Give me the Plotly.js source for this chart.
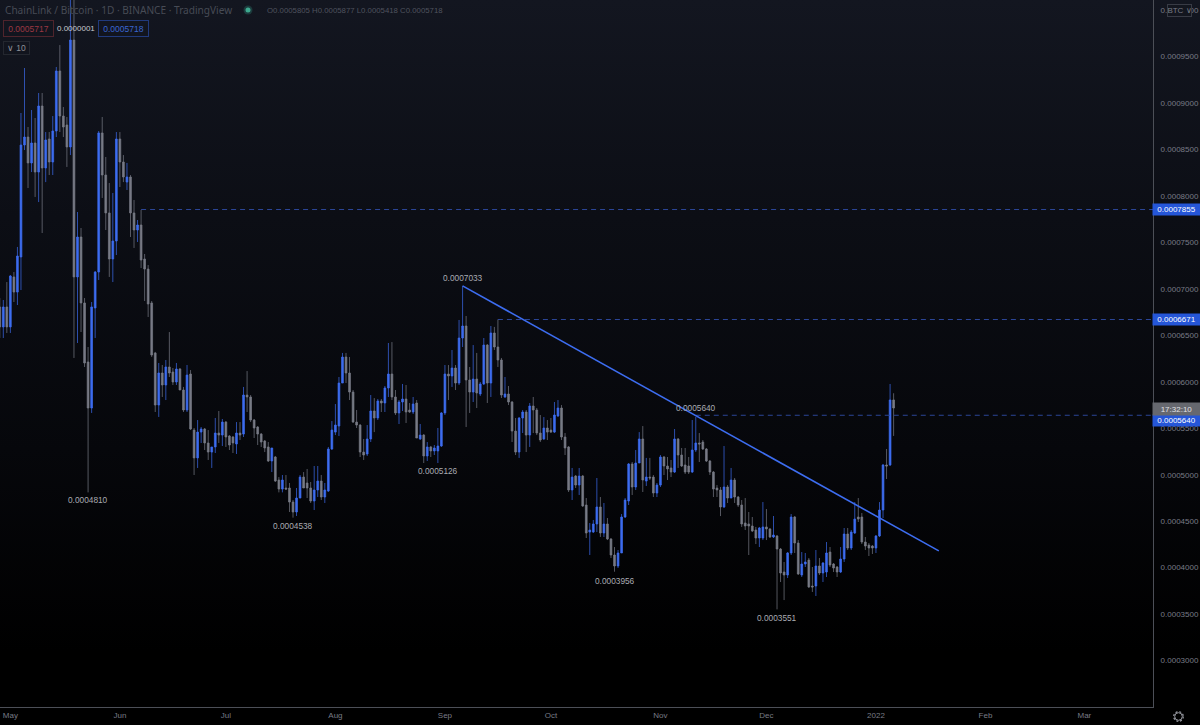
<!DOCTYPE html>
<html><head><meta charset="utf-8">
<script src="https://cdn.plot.ly/plotly-3.0.1.min.js"></script>
<style>
html,body{margin:0;padding:0;width:1200px;height:725px;overflow:hidden;
background:linear-gradient(#131620 0%,#0c0e15 30%,#06070b 62%,#000 90%);}
#chart{width:1200px;height:725px;}
</style></head><body><div id="chart"></div>
<script>
// prices in units of 0.0000001 BTC
const UNIT = 1e-7;
const firstDay = "2021-04-28";
const open_ = [6806,6591,6806,6591,7129,6966,7344,8549,8635,8356,8571,8258,8969,8302,8614,8366,8700,9346,8861,8765,8528,9679,7129,7559,6849,6214,5718,6795,7182,8679,8226,7818,7322,7516,8614,8366,8150,8205,7818,7634,7688,7322,7214,6849,6311,5750,6095,5966,6160,6106,5998,6138,5912,5697,6084,5481,5181,5459,5492,5342,5244,5299,5449,5427,5567,5417,5406,5331,5449,5438,5858,5837,5589,5514,5438,5363,5299,5148,5191,4943,4846,4857,4857,4706,4599,4749,4975,4911,4857,4717,4836,4932,4760,4825,5277,5459,5524,5987,6267,6095,5890,5567,5535,5244,5223,5385,5686,5611,5794,5772,5934,6084,5837,5665,5783,5815,5697,5675,5772,5385,5427,5202,5299,5256,5256,5309,5665,6084,6063,6149,5987,6472,6601,6020,5890,6030,5869,5977,6396,5987,6526,6375,6235,5837,5869,5783,5470,5244,5611,5675,5427,5740,5697,5449,5385,5503,5481,5459,5632,5718,5406,5299,4836,4986,4889,4986,4674,4383,4383,4470,4653,4373,4470,4308,4136,4018,4158,4545,4717,5116,4868,5126,5385,4932,4975,4975,4803,4889,5191,5094,5073,5029,5385,5212,5105,5094,5029,5266,5342,5352,5277,5148,5029,4857,4836,4653,4868,4749,4943,4760,4674,4481,4470,4448,4405,4319,4319,4438,4416,4330,4341,4200,3953,3921,4158,4545,4265,3921,4039,4082,3802,3802,4018,3942,3953,4168,4039,4007,3953,4093,4362,4211,4373,4545,4545,4276,4243,4233,4211,4341,4620,5105,5105,5805];
const high = [6902,6881,7074,7150,7182,7452,8894,9378,8743,8926,8840,9109,9109,8689,8689,8861,9389,9625,8958,8851,10200,10200,7828,7656,6902,6375,6859,7193,8700,8851,8420,8140,8033,8689,8689,8441,8356,8226,7957,7742,7850,7376,7257,6870,6322,6203,6181,6235,6536,6149,6203,6149,5945,6181,6127,5503,5589,5514,5503,5481,5299,5611,5686,5600,5578,5427,5417,5567,5567,5945,6116,5858,5600,5524,5449,5374,5352,5288,5202,4975,4997,4997,4911,4728,4857,4997,5029,5062,4922,5094,5094,4997,4911,5299,5578,5761,6052,6311,6311,6267,5912,5697,5545,5385,5535,5858,5825,5815,5815,5955,6418,6428,5912,5804,5977,5966,5772,5837,5804,5546,5438,5352,5310,5320,5503,5675,6181,6181,6343,6181,6666,7033,6709,6160,6396,6311,5998,6472,6407,6601,6591,6671,6257,6052,5955,5794,5611,5621,5697,5697,5772,5837,5718,5643,5621,5589,5611,5783,5804,5750,5449,5309,5073,4997,5073,4997,4749,4480,4513,4965,4760,4696,4534,4319,4222,4190,4577,4749,5126,5137,5266,5459,5524,5181,5181,4997,4911,5212,5202,5191,5159,5492,5395,5288,5288,5191,5589,5622,5449,5374,5288,5159,5040,4889,4868,5309,4889,5073,4965,4771,4728,4749,4599,4545,4438,4438,4706,4631,4427,4556,4351,4211,4061,4168,4577,4556,4297,4168,4158,4104,4007,4190,4104,4061,4276,4222,4050,4018,4222,4427,4427,4405,4706,4749,4588,4330,4265,4243,4351,4706,5116,5277,5977,5877];
const low = [6472,6472,6526,6526,6859,6827,6988,8495,8086,8258,7990,7935,7602,8150,8226,8226,8635,8689,8635,8313,8441,6257,6418,6536,6160,4810,5665,6472,7096,7979,7634,7129,7074,7365,8097,8150,8065,7559,7441,7505,7225,6870,6698,6268,5675,5622,5837,5804,6052,5966,5966,5912,5675,5675,5481,4997,5073,5342,5266,5159,5073,5234,5342,5309,5299,5266,5234,5223,5374,5406,5675,5567,5395,5320,5299,5244,5137,5029,4922,4810,4810,4836,4599,4538,4556,4749,4857,4749,4696,4620,4760,4728,4696,4814,5266,5427,5417,5987,5987,5804,5557,5503,5191,5159,5202,5352,5459,5589,5675,5675,5837,5804,5643,5546,5686,5557,5665,5654,5395,5374,5126,5148,5191,5212,5126,5299,5643,5804,5945,5912,5966,6375,5514,5665,5783,5718,5847,5966,5772,5837,6343,6160,5826,5826,5750,5352,5212,5181,5449,5244,5299,5449,5427,5352,5374,5374,5449,5449,5622,5374,5212,4814,4728,4857,4782,4653,4319,4136,4373,4383,4330,4330,4297,4104,3956,3996,4158,4534,4674,4782,4836,5126,4814,4879,4943,4760,4760,4868,4997,4943,4975,5019,5073,5083,5008,5008,5019,5244,5137,5266,5137,4997,4760,4760,4555,4642,4696,4749,4696,4653,4438,4405,4136,4383,4254,4222,4297,4297,4319,4319,3551,3845,3651,3888,4136,4158,3921,3899,4007,3781,3738,3695,3921,3845,3899,4007,3953,3899,3942,4061,4190,4190,4362,4491,4254,4190,4125,4147,4158,4330,4534,4954,5094,5418];
const close_ = [6591,6806,6591,7139,6966,7354,8549,8635,8356,8571,8258,8969,8302,8603,8366,8700,9346,8861,8743,8528,9679,7129,7559,6849,6203,5718,6806,7182,8679,8226,7818,7322,7516,8614,8366,8205,8205,7818,7634,7688,7311,7214,6838,6289,5750,6095,5966,6160,6095,5998,6138,5912,5697,6073,5492,5181,5459,5492,5342,5244,5299,5449,5427,5567,5406,5320,5342,5449,5427,5858,5837,5589,5503,5438,5352,5288,5148,5288,4932,4846,4943,4846,4706,4599,4749,4975,4857,4857,4717,4836,4932,4760,4836,5277,5481,5535,5987,6267,6095,5890,5567,5535,5244,5212,5385,5686,5611,5794,5772,5934,6084,5837,5665,5783,5815,5675,5675,5761,5395,5427,5202,5299,5256,5288,5309,5665,6084,6063,6149,5987,6472,6601,6020,5890,6030,5880,5977,6396,5987,6526,6375,6235,5858,5869,5783,5470,5244,5611,5675,5427,5740,5697,5449,5374,5503,5459,5459,5643,5718,5406,5288,4836,4975,4889,4986,4664,4373,4405,4470,4653,4373,4470,4308,4136,4018,4158,4545,4728,5116,4868,5126,5385,4943,4975,4965,4803,4889,5191,5094,5062,5029,5385,5212,5094,5029,5029,5266,5342,5331,5277,5148,5029,4846,4836,4653,4868,4749,4943,4760,4674,4470,4448,4448,4394,4319,4427,4438,4416,4330,4351,4200,3942,3921,4158,4545,4265,3932,4039,4061,3792,3792,4018,3942,4050,4158,4028,3996,3953,4093,4362,4211,4383,4523,4523,4276,4233,4211,4211,4341,4620,5105,5094,5805,5718];

const priceTicks = [0.0003,0.00035,0.0004,0.00045,0.0005,0.00055,0.0006,0.00065,0.0007,0.00075,0.0008,0.00085,0.0009,0.00095,0.001];
const priceTickLabels = ["0.0003000","0.0003500","0.0004000","0.0004500","0.0005000","0.0005500","0.0006000","0.0006500","0.0007000","0.0007500","0.0008000","0.0008500","0.0009000","0.0009500","0.0010000"];
const monthTicks = ["2021-05-01","2021-06-01","2021-07-01","2021-08-01","2021-09-01","2021-10-01","2021-11-01","2021-12-01","2022-01-01","2022-02-01","2022-03-01"];
const monthLabels = ["May","Jun","Jul","Aug","Sep","Oct","Nov","Dec","2022","Feb","Mar"];

// swing labels: date, price, text
const swingDates = ["2021-05-23","2021-07-20","2021-08-30","2021-09-06","2021-10-19","2021-11-11","2021-12-04"];
const swingPrices = [0.000481,0.0004538,0.0005126,0.0007033,0.0003956,0.000564,0.0003551];
const swingLabels = ["0.0004810","0.0004538","0.0005126","0.0007033","0.0003956","0.0005640","0.0003551"];
const swingShift = [-8,-8,-8,8,-9,7,-9];

// horizontal levels
const levelStart = ["2021-06-07","2021-09-16","2021-11-11"];
const levelPrice = [0.0007855,0.0006671,0.000564];
const levelLabels = ["0.0007855","0.0006671","0.0005640"];

// trend line ends
const trendDates = ["2021-09-06","2022-01-18 19:00"];
const trendPrices = [0.0007033,0.000418];

const X_RANGE = ["2021-04-28 01:35","2022-03-20 10:00"];
const Y_RANGE = [0.00025,0.001011];

const dates = open_.map((_,i)=>{const d=new Date(Date.parse(firstDay+"T00:00:00Z")+i*864e5);return d.toISOString().slice(0,10);});
const scale = a=>a.map(v=>+(v*UNIT).toFixed(7));

const BLUE="#3d6df0", GRAY="#787b86";
const PW=1153, PH=707;
const px=x=>x/PW, py=y=>1-y/PH;
const f=(size,color,family)=>({family:family||'Liberation Sans, Arial, sans-serif',size,color});
const txt=(text,x,y,o={})=>Object.assign({text,xref:'paper',yref:'paper',x:px(x),y:py(y),xanchor:'left',yanchor:'middle',showarrow:false,font:f(8,'#787b86')},o);

const annotations=[];
swingLabels.forEach((t,i)=>annotations.push({text:t,xref:'x',yref:'y',x:swingDates[i],y:swingPrices[i],yshift:swingShift[i],xanchor:'center',yanchor:'middle',showarrow:false,font:f(8.3,'#a9abb2')}));
// header
annotations.push(txt("ChainLink / Bitcoin · 1D · BINANCE · TradingView",3,10,{font:f(10.1,'#474b55','Noto Sans')}));
annotations.push(txt("O0.0005805 H0.0005877 L0.0005418 C0.0005718",265,10,{font:f(7.8,'#4f535e')}));
annotations.push(txt("0.0005717",28,29,{xanchor:'center',font:f(8.5,'#9c3843'),bordercolor:'#4f242c',borderwidth:1,borderpad:0,width:49,height:15}));
annotations.push(txt("0.0000001",76,29,{xanchor:'center',font:f(8,'#c8c9ce')}));
annotations.push(txt("0.0005718",123.5,29,{xanchor:'center',font:f(8.5,'#3a66d2'),bordercolor:'#213a7d',borderwidth:1,borderpad:0,width:49,height:15}));
annotations.push(txt("∨ 10",16,48,{xanchor:'center',font:f(8.5,'#8e9098'),bordercolor:'#24272f',borderwidth:1,borderpad:0,width:25,height:12}));
// right-hand price scale flags
annotations.push(txt("BTC ∨",1179,10,{xanchor:'center',font:f(8,'#787b86'),bgcolor:'#13161f',bordercolor:'#383b45',borderwidth:1,borderpad:0,width:23,height:11}));
const flagY=[209.5,319.5,420.5];
levelLabels.forEach((t,i)=>annotations.push(txt(t,1176.5,flagY[i],{xanchor:'center',font:f(8,'#ffffff'),bgcolor:'#2556d8',borderpad:0,width:47,height:11})));
annotations.push(txt("17:32:10",1176.5,409,{xanchor:'center',font:f(8,'#e0e0e4'),bgcolor:'#66686f',borderpad:0,width:47,height:12}));

const shapes=[];
levelStart.forEach((d,i)=>shapes.push({type:'line',xref:'x',yref:'y',x0:d,x1:X_RANGE[1],y0:levelPrice[i],y1:levelPrice[i],line:{color:'#2b4596',width:1,dash:'5px,4px'}}));
shapes.push({type:'line',xref:'x',yref:'y',x0:trendDates[0],x1:trendDates[1],y0:trendPrices[0],y1:trendPrices[1],line:{color:'#3d6df0',width:1.6}});
const circle=(cx,cy,r,o)=>Object.assign({type:'circle',xref:'paper',yref:'paper',x0:px(cx-r),x1:px(cx+r),y0:py(cy+r),y1:py(cy-r)},o);
shapes.push(circle(248,10,4.5,{fillcolor:'#1c3a3c',line:{width:0}}));
shapes.push(circle(248,10,2.5,{fillcolor:'#3da98f',line:{width:0}}));
shapes.push(circle(1178.5,716.5,3.8,{fillcolor:'rgba(0,0,0,0)',line:{color:'#9a9ca4',width:1}}));
shapes.push(circle(1178.5,716.5,4.8,{fillcolor:'rgba(0,0,0,0)',line:{color:'#9a9ca4',width:1.2,dash:'2px,1.8px'}}));

const trace={type:'candlestick',x:dates,open:scale(open_),high:scale(high),low:scale(low),close:scale(close_),
  increasing:{line:{color:BLUE,width:0.7},fillcolor:BLUE},
  decreasing:{line:{color:GRAY,width:0.7},fillcolor:GRAY},
  whiskerwidth:0,hoverinfo:'skip',showlegend:false};

const layout={width:1200,height:725,margin:{l:0,r:47,t:0,b:18,pad:0},autosize:false,
  paper_bgcolor:'rgba(0,0,0,0)',plot_bgcolor:'rgba(0,0,0,0)',showlegend:false,boxgap:0.28,
  xaxis:{type:'date',range:X_RANGE,rangeslider:{visible:false},showgrid:false,zeroline:false,
    tickmode:'array',tickvals:monthTicks,ticktext:monthLabels,ticks:'',tickfont:f(8,'#787b86'),
    showline:true,linecolor:'#4c4f57',linewidth:1},
  yaxis:{side:'right',range:Y_RANGE,showgrid:false,zeroline:false,tickmode:'array',tickvals:priceTicks,ticktext:priceTickLabels,
    ticks:'outside',ticklen:5,tickcolor:'rgba(0,0,0,0)',tickfont:f(8,'#787b86'),showline:true,linecolor:'#4c4f57',linewidth:1},
  annotations,shapes};
Plotly.newPlot('chart',[trace],layout,{displayModeBar:false,staticPlot:true});
</script></body></html>
